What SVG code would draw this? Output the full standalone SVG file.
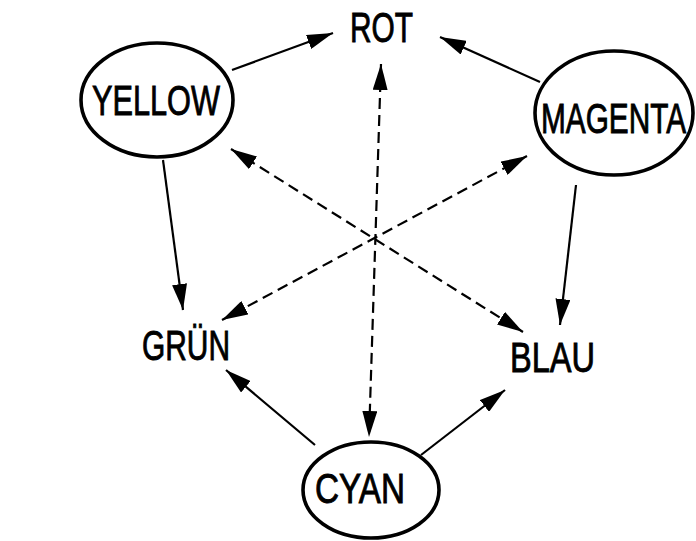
<svg xmlns="http://www.w3.org/2000/svg" width="696" height="541" viewBox="0 0 696 541">
  <defs>
    <marker id="head" viewBox="0 0 26 15" refX="26" refY="7.5" markerWidth="26" markerHeight="15" markerUnits="userSpaceOnUse" orient="auto-start-reverse">
      <path d="M0,0 L26,7.5 L0,15 z" fill="#000"/>
    </marker>
    <style>
      .ring { fill: none; stroke: #000; stroke-width: 3.6; }
      .lbl { font-family: "Liberation Sans", Arial, sans-serif; font-size: 42px; fill: #000; stroke: #000; stroke-width: 0.9; }
      .solid { stroke: #000; stroke-width: 2.2; fill: none; marker-end: url(#head); }
      .dash { stroke: #000; stroke-width: 2.2; fill: none; stroke-dasharray: 11 6; marker-start: url(#head); marker-end: url(#head); }
    </style>
  </defs>
  <rect width="696" height="541" fill="#fff"/>

  <g id="connectors">
    <!-- subtractive to additive primaries -->
    <line class="solid" x1="232" y1="70" x2="333" y2="33"/>
    <line class="solid" x1="540" y1="82" x2="440" y2="37"/>
    <line class="solid" x1="163" y1="160" x2="183" y2="310"/>
    <line class="solid" x1="576" y1="185" x2="560" y2="325"/>
    <line class="solid" x1="315" y1="445" x2="226" y2="370"/>
    <line class="solid" x1="421" y1="455" x2="505" y2="390"/>
    <!-- complementary pairs -->
    <line class="dash" x1="381" y1="64" x2="369" y2="437"/>
    <line class="dash" x1="231" y1="149" x2="523" y2="332"/>
    <line class="dash" x1="527" y1="156" x2="222" y2="320"/>
  </g>

  <g id="yellow">
    <ellipse class="ring" cx="157" cy="100" rx="76" ry="57"/>
    <text class="lbl" x="92" y="115" textLength="128" lengthAdjust="spacingAndGlyphs">YELLOW</text>
  </g>
  <g id="magenta">
    <ellipse class="ring" cx="614" cy="113" rx="79" ry="62"/>
    <text class="lbl" x="541" y="133" textLength="145" lengthAdjust="spacingAndGlyphs">MAGENTA</text>
  </g>
  <g id="cyan">
    <ellipse class="ring" cx="371" cy="490" rx="68" ry="48"/>
    <text class="lbl" x="315" y="503" textLength="90" lengthAdjust="spacingAndGlyphs">CYAN</text>
  </g>
  <g id="rot">
    <text class="lbl" x="350" y="42" textLength="63" lengthAdjust="spacingAndGlyphs">ROT</text>
  </g>
  <g id="gruen">
    <text class="lbl" x="142" y="360" textLength="88" lengthAdjust="spacingAndGlyphs">GRÜN</text>
  </g>
  <g id="blau">
    <text class="lbl" x="510" y="372" textLength="85" lengthAdjust="spacingAndGlyphs">BLAU</text>
  </g>
</svg>
